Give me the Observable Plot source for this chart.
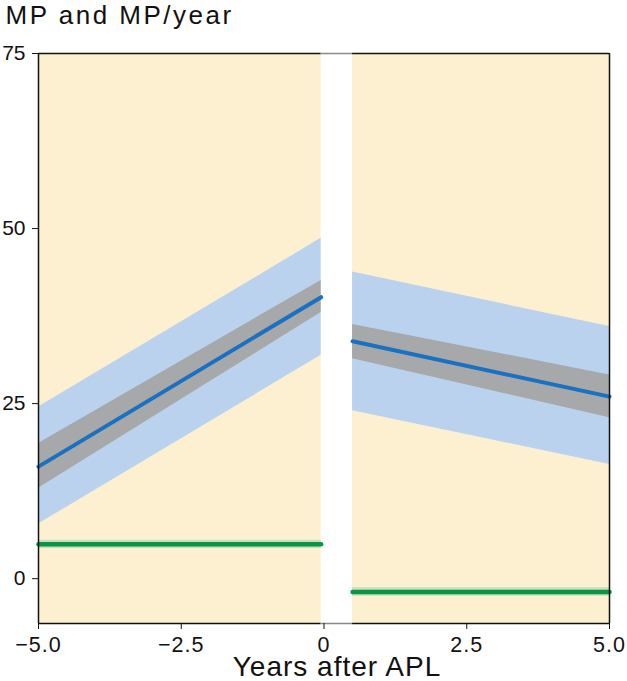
<!DOCTYPE html>
<html>
<head>
<meta charset="utf-8">
<script src="https://cdn.jsdelivr.net/npm/d3@7"></script>
<script src="https://cdn.jsdelivr.net/npm/@observablehq/plot@0.6"></script>
<style>
  html, body { margin: 0; padding: 0; background: #fff; }
  svg { font-family: "Liberation Sans", Arial, sans-serif; }
</style>
</head>
<body>
<div id="chart"></div>
<script>
// ---- data ----
const periods = ["before", "after"];
const periodX = [[-5, -0.05], [0.5, 5]];      // x extent of each period (years after APL)
const mpFit   = [[16.0, 40.2], [33.9, 26.0]]; // blue fitted line (MP)
const mpCiLo  = [[12.9, 38.0], [31.4, 23.0]]; // grey band low
const mpCiHi  = [[19.3, 42.6], [36.3, 29.1]]; // grey band high
const mpPiLo  = [[7.8, 31.9], [24.0, 16.3]];  // light blue band low
const mpPiHi  = [[24.5, 48.6], [43.8, 36.0]]; // light blue band high
const rate    = [[4.9, 4.9], [-1.9, -1.9]];   // green line (MP/year)
const rateLo  = [[4.3, 4.3], [-2.5, -2.5]];
const rateHi  = [[5.5, 5.5], [-1.3, -1.3]];
const xTicks = [-5, -2.5, 0, 2.5, 5];
const yTicks = [0, 25, 50, 75];
const yMin = -6.4, yMax = 75;

// table built from the arrays
const rows = [];
periods.forEach((p, i) => {
  periodX[i].forEach((x, j) => {
    rows.push({period: p, x, fit: mpFit[i][j], ciLo: mpCiLo[i][j], ciHi: mpCiHi[i][j],
      piLo: mpPiLo[i][j], piHi: mpPiHi[i][j], rate: rate[i][j], rLo: rateLo[i][j], rHi: rateHi[i][j]});
  });
});
const panels = periods.map((p, i) => ({period: p, x1: periodX[i][0], x2: periodX[i][1]}));
const gap = [{x1: periodX[0][1], x2: periodX[1][0]}];

const fmt = d => d === 0 ? "0" : (d < 0 ? "\u2212" : "") + Math.abs(d).toFixed(1);

const chart = Plot.plot({
  width: 627,
  height: 681,
  marginTop: 53,
  marginBottom: 58,
  marginLeft: 38,
  marginRight: 18,
  x: {domain: [-5, 5]},
  y: {domain: [yMin, yMax]},
  style: {fontFamily: "'Liberation Sans', Arial, sans-serif", background: "#fff", overflow: "visible"},
  marks: [
    Plot.rect(panels, {x1: "x1", x2: "x2", y1: yMin, y2: yMax, fill: "#fdf0d0"}),
    Plot.areaY(rows, {x: "x", y1: "piLo", y2: "piHi", z: "period", fill: "#bad2ee"}),
    Plot.areaY(rows, {x: "x", y1: "ciLo", y2: "ciHi", z: "period", fill: "#a7a8aa"}),
    Plot.areaY(rows, {x: "x", y1: "rLo", y2: "rHi", z: "period", fill: "#c4e1c2"}),
    Plot.line(rows, {x: "x", y: "rate", z: "period", stroke: "#0b9444", strokeWidth: 4.5}),
    Plot.line(rows, {x: "x", y: "fit", z: "period", stroke: "#1a71c2", strokeWidth: 4}),
    // frame
    Plot.ruleY([yMin, yMax], {x1: periodX[0][0], x2: periodX[0][1], stroke: "#111", strokeWidth: 1.5}),
    Plot.ruleY([yMin, yMax], {x1: periodX[1][0], x2: periodX[1][1], stroke: "#111", strokeWidth: 1.5}),
    Plot.ruleY([yMin, yMax], {x1: gap[0].x1, x2: gap[0].x2, stroke: "#8a8a8a", strokeWidth: 1.5}),
    Plot.ruleX([-5, 5], {y1: yMin, y2: yMax, stroke: "#111", strokeWidth: 1.5}),
    Plot.axisY({ticks: yTicks, tickSize: 6, tickPadding: 7, fontSize: 21, label: null, stroke: "#111", color: "#111"}),
    Plot.axisX({ticks: xTicks, tickSize: 6, tickPadding: 7, fontSize: 21.5, tickFormat: fmt, label: null, stroke: "#111", color: "#111"}),
    Plot.text(["MP and MP/year"], {frameAnchor: "top-left", dx: -33, dy: -30, lineAnchor: "bottom", textAnchor: "start", fontSize: 26, fill: "#111", className: "title-text"}),
    Plot.text(["Years after APL"], {frameAnchor: "bottom", dx: 13, dy: 52, lineAnchor: "bottom", fontSize: 28, fill: "#111", className: "xlabel-text"})
  ]
});
document.getElementById("chart").appendChild(chart);
// letter spacing to approximate the reference's wider typeface
d3.select(chart).selectAll("g[aria-label='x-axis tick label'] text").style("letter-spacing", "1px");
d3.select(chart).selectAll(".title-text text").style("letter-spacing", "2.5px");
d3.select(chart).selectAll(".xlabel-text text").style("letter-spacing", "1px");
</script>
</body>
</html>
